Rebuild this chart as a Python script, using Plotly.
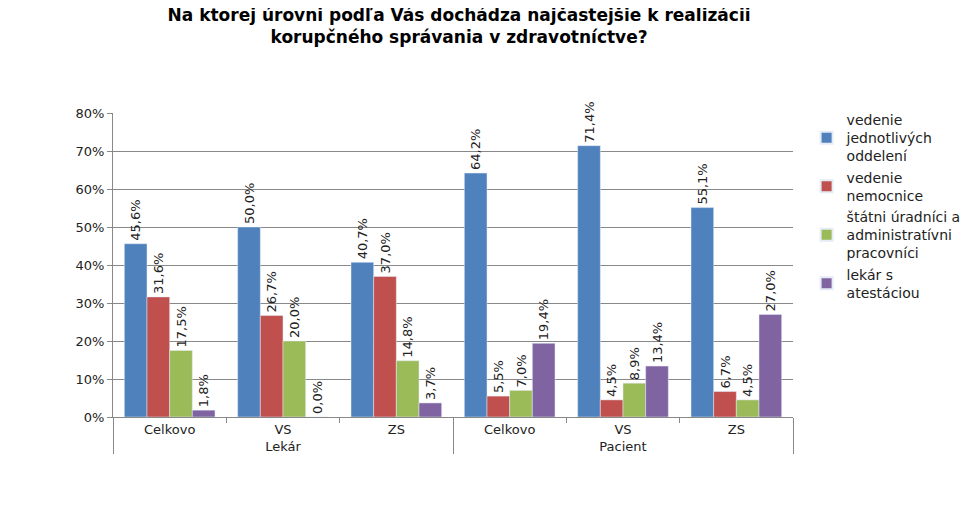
import plotly.graph_objects as go

groups = ["Lekár"] * 3 + ["Pacient"] * 3
subcats = ["Celkovo", "VS", "ZS"] * 2
series_names = ["vedenie<br>jednotlivých<br>oddelení", "vedenie<br>nemocnice",
                "štátni úradníci a<br>administratívni<br>pracovníci", "lekár s<br>atestáciou"]
oddelenia = [45.6, 50.0, 40.7, 64.2, 71.4, 55.1]
nemocnica = [31.6, 26.7, 37.0, 5.5, 4.5, 6.7]
uradnici = [17.5, 20.0, 14.8, 7.0, 8.9, 4.5]
atestacia = [1.8, 0.0, 3.7, 19.4, 13.4, 27.0]
colors = ["#4F81BD", "#C0504D", "#9BBB59", "#8064A2"]

fig = go.Figure()
for name, vals, c in zip(series_names, [oddelenia, nemocnica, uradnici, atestacia], colors):
    fig.add_trace(go.Bar(
        x=[groups, subcats], y=[v / 100 for v in vals], name=name, marker_color=c,
        text=[f"{v:.1f}%".replace(".", ",") for v in vals], textposition="outside",
        textangle=-90, textfont=dict(size=13, color="#222"), cliponaxis=False))

fig.update_layout(
    width=970, height=512, paper_bgcolor="white", plot_bgcolor="white",
    margin=dict(l=105, r=180, t=105, b=103),
    title=dict(text="<b>Na ktorej úrovni podľa Vás dochádza najčastejšie k realizácii<br>korupčného správania v zdravotníctve?</b>",
               x=0.465, xanchor="center", y=0.975, font=dict(size=17, color="black")),
    font=dict(family="DejaVu Sans", size=13, color="#222"),
    uniformtext=dict(minsize=13, mode="show"),
    bargap=0.2, bargroupgap=0.0,
    legend=dict(x=1.02, y=1.03, yanchor="top", font=dict(size=14), tracegroupgap=40,
                itemsizing="constant"),
    yaxis=dict(range=[0, 0.8], dtick=0.1, tickformat=".0%", showgrid=True,
               gridcolor="#888", showline=True, linecolor="#888", ticks="outside",
               ticklen=5, tickcolor="#888"),
    xaxis=dict(showline=True, linecolor="#888", showdividers=True, dividercolor="#888",
               dividerwidth=1, ticks="outside", tickcolor="#888"),
)
fig.write_html("out.html")
